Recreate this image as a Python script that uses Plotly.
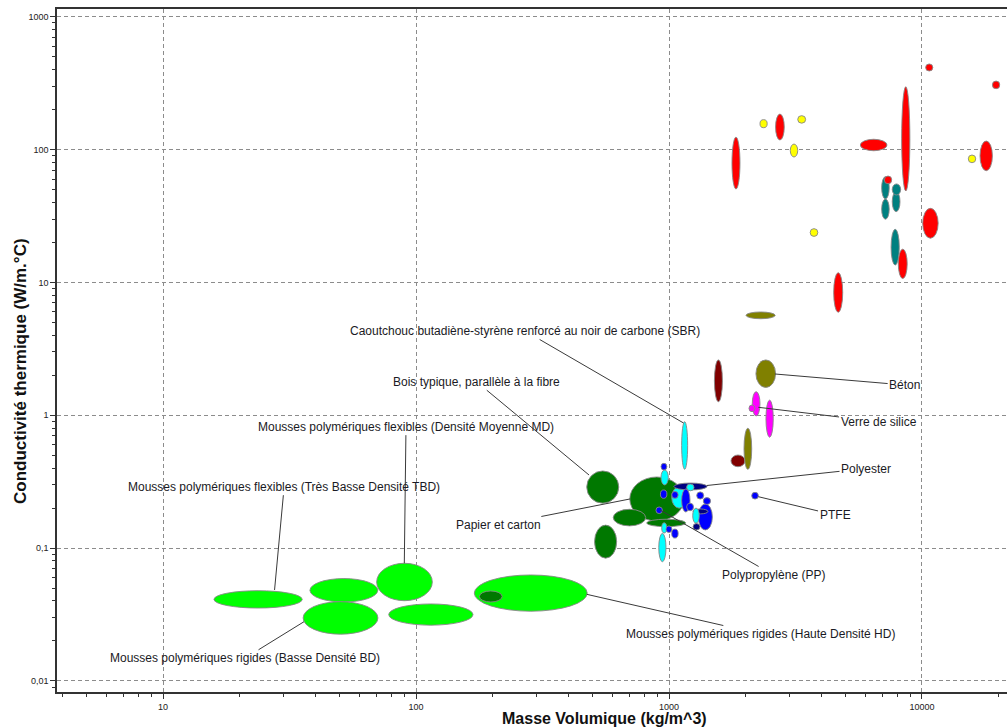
import math
import plotly.graph_objects as go

# Material bubbles: (density min, density max, conductivity min, conductivity max)
# density in kg/m^3, thermal conductivity in W/m.°C
FOAMS = [
    (15.9, 35.5, 0.0354, 0.0478),     # flexible foam, very low density
    (38.1, 70.6, 0.0393, 0.059),
    (35.8, 70.7, 0.0225, 0.0395),     # rigid foam, low density
    (69.9, 116, 0.0402, 0.0769),      # flexible foam, medium density
    (78, 168, 0.0263, 0.038),
    (170, 475, 0.0335, 0.0628),       # rigid foam, high density
]
NATURAL = [
    (178, 219, 0.0393, 0.0476),
    (473, 633, 0.218, 0.381),         # typical wood, along grain
    (700, 1145, 0.16, 0.343),         # paper and board
    (602, 809, 0.147, 0.196),
    (816, 1164, 0.145, 0.165),
    (508, 621, 0.084, 0.149),
]
ELASTOMERS_A = [
    (1122, 1185, 0.392, 0.895),       # SBR
    (930, 994, 0.299, 0.388),
    (911, 973, 0.079, 0.129),
    (936, 979, 0.130, 0.155),
    (1025, 1174, 0.200, 0.290),
]
POLYESTER = [(1046, 1413, 0.274, 0.309)]
ELASTOMERS_B = [(1174, 1256, 0.270, 0.304)]
THERMOPLASTICS = [
    (930, 981, 0.3875, 0.435),
    (925, 981, 0.237, 0.274),
    (888, 942, 0.182, 0.204),         # polypropylene
    (1025, 1087, 0.237, 0.267),
    (1122, 1211, 0.187, 0.279),
    (1306, 1484, 0.137, 0.215),
    (1174, 1250, 0.191, 0.218),
    (1287, 1371, 0.234, 0.265),
    (1366, 1460, 0.213, 0.240),
    (973, 1027, 0.131, 0.147),
    (1025, 1087, 0.119, 0.139),
]
THERMOSETS_A = [(1245, 1425, 0.181, 0.197)]
ELASTOMERS_C = [(1241, 1317, 0.154, 0.200)]
THERMOSETS_B = [(1245, 1326, 0.137, 0.153)]
PTFE = [(2123, 2255, 0.234, 0.263)]
COMPOSITES = [
    (1512, 1626, 1.265, 2.61),
    (1758, 1997, 0.41, 0.502),
]
STONES = [
    (2206, 2638, 1.62, 2.61),         # concrete
    (1979, 2123, 0.392, 0.798),
    (2016, 2629, 5.33, 5.99),
]
GLASSES = [
    (2134, 2289, 0.988, 1.505),       # silica glass
    (2417, 2583, 0.683, 1.30),
    (2071, 2187, 1.064, 1.195),
]
CERAMICS = [
    (6929, 7420, 42.5, 62.5),
    (6929, 7420, 29.9, 42.4),
    (7629, 8185, 34.1, 48.2),
    (7629, 8237, 45.5, 55.1),
    (7548, 8133, 13.5, 25.1),
]
METALS = [
    (1774, 1908, 50.5, 124),
    (2638, 2855, 118, 185),
    (5704, 7273, 98, 119.5),
    (8311, 8955, 48.8, 297),
    (7099, 7591, 55.3, 63.2),
    (10340, 11035, 390, 441),
    (18980, 20290, 287, 328),
    (16956, 18980, 69.3, 116),
    (10064, 11584, 21.5, 36.1),
    (8060, 8740, 10.7, 17.8),
    (4477, 4860, 5.96, 11.84),
]
OTHER_METALS = [
    (2289, 2444, 146, 168),
    (3227, 3468, 158, 180),
    (3016, 3227, 87.9, 110),
    (3614, 3875, 22.2, 25.4),
    (15240, 16310, 79.6, 91),
]

# Draw order (back to front) with fill colours
LAYERS = [
    (FOAMS, "#00FF00"),
    (NATURAL, "#007800"),
    (ELASTOMERS_A, "#00FFFF"),
    (POLYESTER, "#000080"),
    (ELASTOMERS_B, "#00FFFF"),
    (THERMOPLASTICS, "#0000FF"),
    (THERMOSETS_A, "#000080"),
    (ELASTOMERS_C, "#00FFFF"),
    (THERMOSETS_B, "#000080"),
    (PTFE, "#0000FF"),
    (COMPOSITES, "#800000"),
    (STONES, "#808000"),
    (GLASSES, "#FF00FF"),
    (CERAMICS, "#008080"),
    (METALS, "#FF0000"),
    (OTHER_METALS, "#FFFF00"),
]

# Labels: text, anchor (density, conductivity), text offset in px
LABELS = [
    ("Caoutchouc butadiène-styrène renforcé au noir de carbone (SBR)", 1141, 0.875, -158.5, -92),
    ("Bois typique, parallèle à la fibre", 483, 0.355, -112.5, -93.3),
    ("Mousses polymériques flexibles (Densité Moyenne MD)", 89.9, 0.0769, 1.7, -136.6),
    ("Mousses polymériques flexibles (Très Basse Densité TBD)", 27.6, 0.0484, 9.6, -103.3),
    ("Papier et carton", 701, 0.2344, -131.7, 26),
    ("Polyester", 1410, 0.296, 159.3, -17),
    ("PTFE", 2255, 0.2438, 76.7, 18.3),
    ("Béton", 2623, 2.045, 129.7, 11),
    ("Verre de silice", 2255, 1.148, 120.2, 14.4),
    ("Polypropylène (PP)", 921, 0.1937, 113.5, 65),
    ("Mousses polymériques rigides (Haute Densité HD)", 473, 0.0449, 173.8, 39.7),
    ("Mousses polymériques rigides (Basse Densité BD)", 36.1, 0.02795, -59.3, 36.6),
]

X_TICKS = [10, 100, 1000, 10000]
X_TICKTEXT = ["10", "100", "1000", "10000"]
Y_TICKS = [0.01, 0.1, 1, 10, 100, 1000]
Y_TICKTEXT = ["0,01", "0,1", "1", "10", "100", "1000"]

FONT = "Liberation Sans, Arial, sans-serif"
MINOR = [m * 10.0 ** e for e in range(-3, 6) for m in range(2, 10)]

fig = go.Figure()

shapes = []
for items, colour in LAYERS:
    for r0, r1, k0, k1 in items:
        shapes.append(dict(
            type="circle", xref="x", yref="y",
            x0=r0, x1=r1, y0=k0, y1=k1,
            fillcolor=colour,
            line=dict(color="rgba(135,135,135,0.9)", width=1),
            layer="above",
        ))

annotations = []
for text, rho, k, dx, dy in LABELS:
    annotations.append(dict(
        x=math.log10(rho), y=math.log10(k), xref="x", yref="y",
        ax=dx, ay=dy, text=text, showarrow=True,
        arrowhead=0, arrowwidth=1, arrowcolor="#3a3a3a", standoff=0,
        font=dict(family=FONT, size=12, color="#1a1a24"),
    ))

annotations.append(dict(
    text="<b>Masse Volumique (kg/m^3)</b>", xref="paper", yref="paper",
    x=(604 - 57) / 950, y=-(718 - 692) / 683, xanchor="center", yanchor="middle",
    showarrow=False, font=dict(family=FONT, size=16, color="#111111"),
))
annotations.append(dict(
    text="<b>Conductivité thermique (W/m.°C)</b>", xref="paper", yref="paper",
    x=(20 - 57) / 950, y=(692 - 371) / 683, xanchor="center", yanchor="middle",
    textangle=-90, showarrow=False, font=dict(family=FONT, size=17, color="#111111"),
))

axis_common = dict(
    type="log",
    showline=True, linecolor="#333333", linewidth=1.5,
    ticks="outside", ticklen=5, tickcolor="#333333", tickwidth=1,
    showgrid=True, gridcolor="#8c8c8c", gridwidth=1, griddash="4px,3px",
    zeroline=False,
    tickfont=dict(family=FONT, size=9, color="#222222"),
    minor=dict(tickvals=MINOR, ticks="outside", ticklen=3,
               tickcolor="#333333", showgrid=False),
)

fig.update_layout(
    width=1007, height=727,
    margin=dict(l=57, r=0, t=9, b=35),
    paper_bgcolor="white", plot_bgcolor="white",
    showlegend=False,
    xaxis=dict(axis_common, range=[0.581, 4.336], tickvals=X_TICKS,
               ticktext=X_TICKTEXT, mirror=True),
    yaxis=dict(axis_common, range=[-2.083, 3.058], tickvals=Y_TICKS,
               ticktext=Y_TICKTEXT),
    shapes=shapes,
    annotations=annotations,
)

fig.write_html("out.html")
